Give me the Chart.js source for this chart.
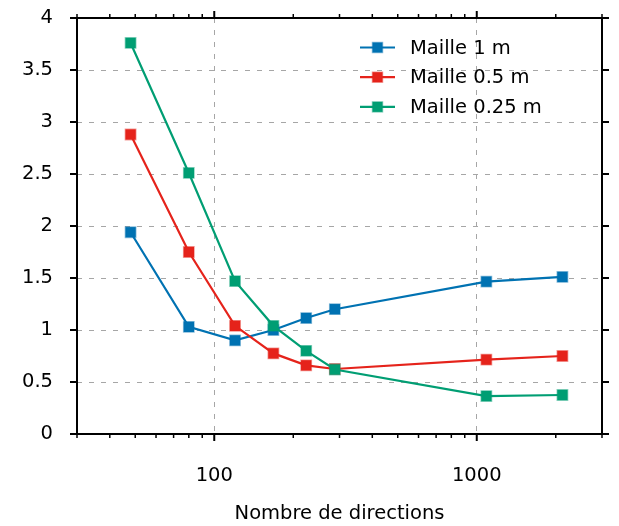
<!DOCTYPE html>
<html>
<head>
<meta charset="utf-8">
<script src="https://cdn.jsdelivr.net/npm/chart.js@4.4.1/dist/chart.umd.min.js"></script>
<style>
  html, body { margin: 0; padding: 0; background: #fff; }
  #wrap { width: 619px; height: 526px; }
</style>
</head>
<body>
<div id="wrap"><canvas id="chart" width="619" height="526"></canvas></div>
<script>
// --- data ---
const directions = [48, 80, 120, 168, 224, 288, 1088, 2120];
const maille1 = [1.94, 1.03, 0.90, 1.00, 1.115, 1.20, 1.465, 1.51];
const maille05 = [2.88, 1.75, 1.04, 0.775, 0.66, 0.625, 0.715, 0.75];
const maille025 = [3.76, 2.51, 1.47, 1.04, 0.80, 0.62, 0.365, 0.375];
const seriesNames = ["Maille 1 m", "Maille 0.5 m", "Maille 0.25 m"];
const seriesColors = ["#0072b2", "#e5231b", "#009e73"];
const xMajor = [100, 1000];
const xMinor = [30, 40, 50, 60, 70, 80, 90, 200, 300, 400, 500, 600, 700, 800, 900, 2000, 3000];
const yTicks = [0, 0.5, 1, 1.5, 2, 2.5, 3, 3.5, 4];

const FONT = "DejaVu Sans";
const FSIZE = 19.5;
const GRID = "#a6a6a6";
const toPoints = (vals) => directions.map((d, i) => ({ x: d, y: vals[i] }));
const fade = (hex, a) => {
    const n = parseInt(hex.slice(1), 16);
    return `rgba(${n >> 16}, ${(n >> 8) & 255}, ${n & 255}, ${a})`;
};

const makeSet = (idx, vals, order) => ({
    label: seriesNames[idx],
    data: toPoints(vals),
    borderColor: seriesColors[idx],
    backgroundColor: seriesColors[idx],
    borderWidth: 2.2,
    pointStyle: "rect",
    pointRadius: 7.3,
    pointHoverRadius: 7.3,
    pointBackgroundColor: seriesColors[idx],
    pointBorderColor: fade(seriesColors[idx], 0.45),
    pointBorderWidth: 1.5,
    tension: 0,
    order: order
});

// frame + outward ticks on all four sides
const framePlugin = {
    id: "frame",
    afterDraw(chart) {
        const { ctx, chartArea: a, scales } = chart;
        const xs = scales.x, ys = scales.y;
        ctx.save();
        ctx.strokeStyle = "#000";
        ctx.lineWidth = 2;
        ctx.lineCap = "butt";
        ctx.strokeRect(a.left, a.top, a.right - a.left, a.bottom - a.top);

        const tick = (x1, y1, x2, y2) => {
            ctx.beginPath();
            ctx.moveTo(x1, y1);
            ctx.lineTo(x2, y2);
            ctx.stroke();
        };
        xMajor.concat(xMinor).forEach(v => {
            const px = xs.getPixelForValue(v);
            const len = xMajor.includes(v) ? 7 : 4;
            ctx.lineWidth = xMajor.includes(v) ? 2 : 1.5;
            tick(px, a.bottom, px, a.bottom + len);
            tick(px, a.top, px, a.top - len);
        });
        ctx.lineWidth = 2;
        yTicks.forEach(v => {
            const py = ys.getPixelForValue(v);
            tick(a.left, py, a.left - 7, py);
            tick(a.right, py, a.right + 7, py);
        });
        ctx.restore();
    }
};

// legend drawn inside the plot, no frame
const legendPlugin = {
    id: "innerLegend",
    afterDraw(chart) {
        const { ctx } = chart;
        ctx.save();
        ctx.font = `${FSIZE}px "${FONT}"`;
        ctx.textBaseline = "middle";
        ctx.fillStyle = "#000";
        seriesNames.forEach((name, i) => {
            const y = 47.5 + i * 29.7;
            const c = seriesColors[i];
            ctx.strokeStyle = c;
            ctx.lineWidth = 2.2;
            ctx.beginPath();
            ctx.moveTo(360, y);
            ctx.lineTo(395, y);
            ctx.stroke();
            ctx.fillStyle = c;
            ctx.fillRect(372.5, y - 5, 10, 10);
            ctx.strokeStyle = fade(c, 0.45);
            ctx.lineWidth = 1.5;
            ctx.strokeRect(372.5, y - 5, 10, 10);
            ctx.fillStyle = "#000";
            ctx.fillText(name, 410, y + 1);
        });
        ctx.restore();
    }
};

new Chart(document.getElementById("chart"), {
    type: "line",
    data: {
        datasets: [
            makeSet(0, maille1, 2),
            makeSet(1, maille05, 1),
            makeSet(2, maille025, 0)
        ]
    },
    options: {
        responsive: false,
        animation: false,
        layout: { padding: { top: 18, right: 17, left: 0, bottom: 0 } },
        plugins: {
            legend: { display: false },
            tooltip: { enabled: false }
        },
        scales: {
            x: {
                type: "logarithmic",
                min: 30,
                max: 3000,
                afterBuildTicks: (axis) => { axis.ticks = xMajor.concat(xMinor).sort((p, q) => p - q).map(v => ({ value: v })); },
                afterFit: (axis) => { axis.height = 92; axis.paddingLeft = 0; axis.paddingRight = 0; },
                ticks: {
                    autoSkip: false,
                    maxRotation: 0,
                    padding: 30,
                    color: "#000",
                    font: { family: FONT, size: FSIZE },
                    callback: (v) => xMajor.includes(v) ? String(v) : ""
                },
                grid: {
                    drawTicks: false,
                    color: (c) => (c.tick && xMajor.includes(c.tick.value)) ? GRID : "rgba(0,0,0,0)",
                    lineWidth: 1
                },
                border: { display: false, dash: [5, 7] },
                title: {
                    display: true,
                    text: "Nombre de directions",
                    color: "#000",
                    font: { family: FONT, size: FSIZE },
                    padding: { top: 0, bottom: 0 }
                }
            },
            y: {
                min: 0,
                max: 4,
                afterBuildTicks: (axis) => { axis.ticks = yTicks.map(v => ({ value: v })); },
                afterFit: (axis) => { axis.width = 77; axis.paddingTop = 0; axis.paddingBottom = 0; },
                ticks: {
                    padding: 24,
                    color: "#000",
                    font: { family: FONT, size: FSIZE },
                    callback: (v) => String(v)
                },
                grid: {
                    drawTicks: false,
                    color: GRID,
                    lineWidth: 1
                },
                border: { display: false, dash: [5, 7] }
            }
        }
    },
    plugins: [framePlugin, legendPlugin]
});
</script>
</body>
</html>
